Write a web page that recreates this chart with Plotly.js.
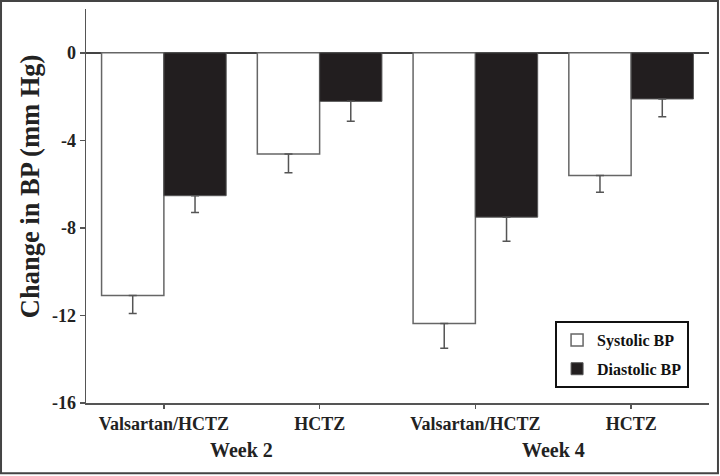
<!DOCTYPE html>
<html>
<head>
<meta charset="utf-8">
<script src="https://cdn.plot.ly/plotly-3.0.1.min.js"></script>
<style>
  html, body { margin: 0; padding: 0; background: #fff; }
  #chart { width: 720px; height: 476px; }
</style>
</head>
<body>
<div id="chart"></div>
<script>
// Data
const categories = ["Valsartan/HCTZ", "HCTZ", "Valsartan/HCTZ", "HCTZ"];
const weeks = ["Week 2", "Week 4"];
const systolic = [-11.09, -4.63, -12.37, -5.61];
const systolicErr = [0.82, 0.85, 1.13, 0.76];
const diastolic = [-6.53, -2.22, -7.51, -2.11];
const diastolicErr = [0.77, 0.91, 1.10, 0.81];
const yTicks = [0, -4, -8, -12, -16];
const yTickLabels = ["0", "-4", "-8", "-12", "-16"];
const seriesNames = ["Systolic BP", "Diastolic BP"];

const xPos = categories.map((_, i) => i);
const serif = "Liberation Serif, Times New Roman, serif";

const traces = [
  {
    type: "bar", name: seriesNames[0], x: xPos, y: systolic,
    marker: { color: "#ffffff", line: { color: "#666666", width: 1.5 } },
    error_y: { type: "data", symmetric: false, array: systolic.map(() => 0),
               arrayminus: systolicErr, color: "#555555", thickness: 1.5, width: 4 },
    legendgroup: "s"
  },
  {
    type: "bar", name: seriesNames[1], x: xPos, y: diastolic,
    marker: { color: "#221e1f", line: { color: "#555555", width: 1 } },
    error_y: { type: "data", symmetric: false, array: diastolic.map(() => 0),
               arrayminus: diastolicErr, color: "#555555", thickness: 1.5, width: 4 },
    legendgroup: "d"
  }
];

const layout = {
  width: 720, height: 476,
  margin: { l: 86, r: 11, t: 9, b: 73 },
  paper_bgcolor: "#ffffff", plot_bgcolor: "#ffffff",
  barmode: "group", bargap: 0.2, bargroupgap: 0,
  font: { family: serif, color: "#222222" },
  xaxis: {
    range: [-0.5, 3.5], tickmode: "array", tickvals: xPos, ticktext: categories,
    showline: true, linecolor: "#555555", linewidth: 1.5,
    ticks: "outside", ticklen: 4, tickwidth: 1.5, tickcolor: "#555555",
    showgrid: false, zeroline: false,
    tickfont: { family: serif, size: 18, color: "#222222", weight: "bold" }
  },
  yaxis: {
    range: [-16, 2], tickmode: "array", tickvals: yTicks, ticktext: yTickLabels,
    showline: true, linecolor: "#555555", linewidth: 1.5,
    ticks: "outside", ticklen: 5, tickwidth: 1.5, tickcolor: "#555555",
    showgrid: false, zeroline: true, zerolinecolor: "#444444", zerolinewidth: 1.5,
    tickfont: { family: serif, size: 18, color: "#222222", weight: "bold" }
  },
  showlegend: true,
  legend: {
    x: 0.968, xanchor: "right", y: 0.038, yanchor: "bottom",
    bgcolor: "#ffffff", bordercolor: "#111111", borderwidth: 2,
    font: { family: serif, size: 16, color: "#111111", weight: "bold" },
    traceorder: "grouped", tracegroupgap: 5, itemwidth: 30
  },
  annotations: [
    { text: "Change in BP (mm Hg)", xref: "paper", yref: "paper", x: -0.0899, y: 0.5504,
      xanchor: "center", yanchor: "middle", textangle: -90, showarrow: false,
      font: { family: serif, size: 26.5, color: "#222222", weight: "bold" } },
    { text: weeks[0], xref: "x", yref: "paper", x: 0.5, y: -0.12,
      xanchor: "center", yanchor: "middle", showarrow: false,
      font: { family: serif, size: 20, color: "#222222", weight: "bold" } },
    { text: weeks[1], xref: "x", yref: "paper", x: 2.5, y: -0.12,
      xanchor: "center", yanchor: "middle", showarrow: false,
      font: { family: serif, size: 20, color: "#222222", weight: "bold" } }
  ],
  shapes: [
    { type: "rect", xref: "paper", yref: "paper",
      x0: -0.1364, x1: 1.0144, y0: -0.1786, y1: 1.0203,
      line: { color: "#444444", width: 2 }, fillcolor: "rgba(0,0,0,0)", layer: "above" }
  ]
};

Plotly.newPlot("chart", traces, layout, { displayModeBar: false, staticPlot: true });
</script>
</body>
</html>
